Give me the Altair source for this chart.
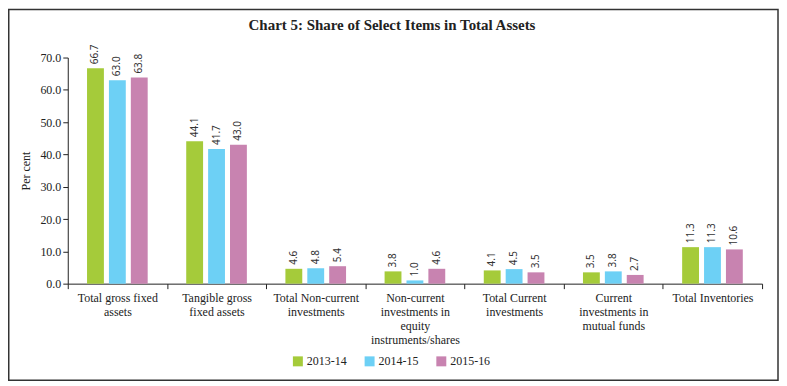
import altair as alt
import pandas as pd

categories = [
    "Total gross fixed\nassets",
    "Tangible gross\nfixed assets",
    "Total Non-current\ninvestments",
    "Non-current\ninvestments in\nequity\ninstruments/shares",
    "Total Current\ninvestments",
    "Current\ninvestments in\nmutual funds",
    "Total Inventories",
]
years = ["2013-14", "2014-15", "2015-16"]
v_2013_14 = [66.7, 44.1, 4.6, 3.8, 4.1, 3.5, 11.3]
v_2014_15 = [63.0, 41.7, 4.8, 1.0, 4.5, 3.8, 11.3]
v_2015_16 = [63.8, 43.0, 5.4, 4.6, 3.5, 2.7, 10.6]
colors = ["#A5CB3A", "#6DD0F5", "#C883B0"]
y_ticks = [0, 10, 20, 30, 40, 50, 60, 70]

rows = []
for yr, vals in zip(years, [v_2013_14, v_2014_15, v_2015_16]):
    for c, v in zip(categories, vals):
        rows.append({"item": c, "year": yr, "value": v})
df = pd.DataFrame(rows)

SERIF = "Liberation Serif"

x = alt.X(
    "item:N",
    sort=categories,
    scale=alt.Scale(paddingInner=0, paddingOuter=0),
    axis=alt.Axis(
        title=None,
        labelExpr="split(datum.label, '\\n')",
        labelAngle=0,
        labelFont=SERIF,
        labelFontSize=12,
        labelColor="#222",
        labelLineHeight=14,
        labelPadding=4,
        labelBaseline="top",
        tickBand="extent",
        tickSize=5,
        tickColor="#222",
        domainColor="#222",
        labelLimit=200,
    ),
)
xoff = alt.XOffset(
    "year:N",
    sort=years,
    scale=alt.Scale(paddingInner=0.23, paddingOuter=0.88),
)
y = alt.Y(
    "value:Q",
    scale=alt.Scale(domain=[0, 70], nice=False),
    axis=alt.Axis(
        title="Per cent",
        titleFont=SERIF,
        titleFontSize=12,
        titleFontWeight="normal",
        titleColor="#222",
        titlePadding=7,
        values=y_ticks,
        format=".1f",
        labelFont=SERIF,
        labelFontSize=12,
        labelColor="#222",
        labelOverlap=False,
        tickSize=5,
        tickColor="#222",
        domainColor="#222",
        grid=False,
        labelPadding=2,
    ),
)
color = alt.Color(
    "year:N",
    sort=years,
    scale=alt.Scale(domain=years, range=colors),
    legend=alt.Legend(
        title=None,
        orient="none",
        legendX=225,
        legendY=299,
        direction="horizontal",
        symbolType="square",
        symbolSize=100,
        symbolStrokeWidth=0,
        symbolOpacity=1,
        labelFont=SERIF,
        labelFontSize=12,
        labelColor="#222",
        labelOffset=3,
        columnPadding=17,
    ),
)

base = alt.Chart(df).encode(x=x, xOffset=xoff, y=y)
bars = base.mark_bar(opacity=1).encode(color=color)
labels = base.mark_text(
    angle=270, align="left", baseline="middle", dx=4,
    font="Noto Sans", fontSize=10, color="#333",
).encode(text=alt.Text("value:Q", format=".1f"))

border = alt.Chart(pd.DataFrame({"k": [0]})).mark_rect(
    fill="transparent", stroke="#333", strokeWidth=1.5
).encode(
    x=alt.value(-59.25), x2=alt.value(713), y=alt.value(-48.25), y2=alt.value(324)
)

chart = alt.layer(bars, labels, border).properties(
    width=697,
    height=227,
    autosize=alt.AutoSizeParams(type="none"),
    padding={"left": 60, "top": 49, "right": 17, "bottom": 98},
    title=alt.Title(
        "Chart 5: Share of Select Items in Total Assets",
        font=SERIF, fontSize=15, fontWeight="bold", color="#222",
        anchor="middle", dx=-23, offset=0, dy=24,
    ),
).configure_view(stroke=None).configure_axis(domainWidth=1, tickWidth=1)

chart.save("out.html", embed_options={"renderer": "svg", "actions": False})
